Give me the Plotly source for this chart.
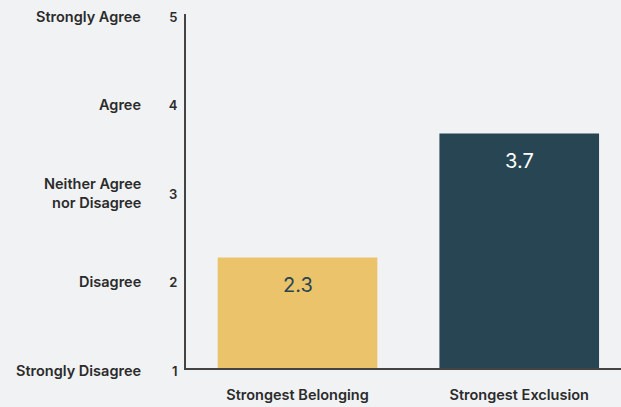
import plotly.graph_objects as go

categories = ["Strongest Belonging", "Strongest Exclusion"]
values = [2.25, 3.65]
value_labels = ["2.3", "3.7"]
bar_colors = ["#EBC36A", "#274552"]
value_text_colors = ["#274552", "#FFFFFF"]
scale_vals = [1, 2, 3, 4, 5]
scale_labels = ["Strongly Disagree", "Disagree", "Neither Agree<br>nor Disagree", "Agree", "Strongly Agree"]

FONT = "Inter"
TXT = "#2b2b2b"

fig = go.Figure()
fig.add_trace(go.Bar(
    x=categories, y=values, marker=dict(color=bar_colors, line=dict(width=0)),
    hoverinfo="skip", showlegend=False,
))

annotations = []
for c, v, lab, tc in zip(categories, values, value_labels, value_text_colors):
    annotations.append(dict(
        x=c, y=v, xref="x", yref="y", text=lab, showarrow=False,
        yshift=-28, yanchor="middle", xanchor="center",
        font=dict(family=FONT, size=20, color=tc),
    ))
for v, lab in zip(scale_vals, scale_labels):
    annotations.append(dict(
        x=0, y=v, xref="paper", yref="y", text=lab, showarrow=False,
        xanchor="right", yanchor="middle", xshift=-43, yshift=-2, align="right",
        font=dict(family=FONT, size=14.5, color=TXT, weight=600),
    ))

fig.update_layout(
    width=621, height=407,
    margin=dict(l=186, r=0, t=14, b=39),
    paper_bgcolor="#F1F2F4", plot_bgcolor="#F1F2F4",
    bargap=0.28,
    font=dict(family=FONT, size=13, color=TXT),
    annotations=annotations,
    xaxis=dict(
        range=[-0.503, 1.459], showline=True, linecolor="#444444", linewidth=2,
        showgrid=False, zeroline=False, ticks="", ticklabelstandoff=13,
        tickfont=dict(family=FONT, size=14.5, color=TXT, weight=600),
    ),
    yaxis=dict(
        range=[1, 5], showline=True, linecolor="#444444", linewidth=2,
        showgrid=False, zeroline=False, ticks="", tickvals=scale_vals,
        ticktext=[str(v) for v in scale_vals], ticklabelstandoff=4,
        ticklabelshift=3,
        tickfont=dict(family=FONT, size=13, color=TXT, weight=600),
    ),
)

fig.write_html("out.html", config={"displayModeBar": False},
               post_script="document.body.style.margin='0';")
